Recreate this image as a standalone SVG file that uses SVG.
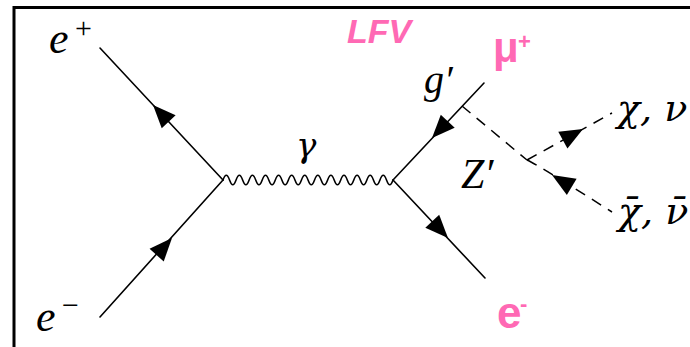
<svg xmlns="http://www.w3.org/2000/svg" width="690" height="347" viewBox="0 0 690 347">
<style>
.ln{stroke:#000;stroke-width:1.6;fill:none;stroke-linecap:round}
.ds{stroke:#000;stroke-width:1.5;fill:none;stroke-dasharray:11 8}
.m{font-family:"Liberation Serif",serif;font-style:italic;fill:#000}
.g{font-family:"DejaVu Serif",serif;font-style:italic;fill:#000}
.up{font-style:normal}
.pk{font-family:"Liberation Sans",Arial,sans-serif;font-weight:bold;fill:#ff69b4}
</style>
<defs>
<path id="arr" d="M0,0 L-23,-9.5 L-23,9.5 Z" fill="#000"/>
</defs>
<rect width="690" height="347" fill="#fff"/>
<path d="M14,347 L14,7.5 L690,7.5" stroke="#000" stroke-width="3" fill="none"/>
<g id="connectors">
<line class="ln" x1="100" y1="48" x2="223" y2="180"/>
<line class="ln" x1="100" y1="317" x2="223" y2="180"/>
<line class="ln" x1="393" y1="180" x2="484" y2="83"/>
<line class="ln" x1="393" y1="180" x2="485" y2="278"/>
<path class="ln" stroke-width="1.4" d="M223,180 c2.35,-6.3 4.19,-6.3 6.54,0 c2.35,6.3 4.19,6.3 6.54,0 c2.35,-6.3 4.19,-6.3 6.54,0 c2.35,6.3 4.19,6.3 6.54,0 c2.35,-6.3 4.19,-6.3 6.54,0 c2.35,6.3 4.19,6.3 6.54,0 c2.35,-6.3 4.19,-6.3 6.54,0 c2.35,6.3 4.19,6.3 6.54,0 c2.35,-6.3 4.19,-6.3 6.54,0 c2.35,6.3 4.19,6.3 6.54,0 c2.35,-6.3 4.19,-6.3 6.54,0 c2.35,6.3 4.19,6.3 6.54,0 c2.35,-6.3 4.19,-6.3 6.54,0 c2.35,6.3 4.19,6.3 6.54,0 c2.35,-6.3 4.19,-6.3 6.54,0 c2.35,6.3 4.19,6.3 6.54,0 c2.35,-6.3 4.19,-6.3 6.54,0 c2.35,6.3 4.19,6.3 6.54,0 c2.35,-6.3 4.19,-6.3 6.54,0 c2.35,6.3 4.19,6.3 6.54,0 c2.35,-6.3 4.19,-6.3 6.54,0 c2.35,6.3 4.19,6.3 6.54,0 c2.35,-6.3 4.19,-6.3 6.54,0 c2.35,6.3 4.19,6.3 6.54,0 c2.35,-6.3 4.19,-6.3 6.54,0 c2.35,6.3 4.19,6.3 6.54,0"/>
<path class="ds" d="M462,106 L527,160"/>
<path class="ds" d="M527,160 L612,113"/>
<path class="ds" d="M527,160 Q540,166 612,212"/>
<use href="#arr" transform="translate(153,105) rotate(-133)"/>
<use href="#arr" transform="translate(172,238) rotate(-48.1)"/>
<use href="#arr" transform="translate(432,138) rotate(133.2)"/>
<use href="#arr" transform="translate(448,238) rotate(46.8)"/>
<use href="#arr" transform="translate(583,129) rotate(-28.9)"/>
<use href="#arr" transform="translate(552,175) rotate(-149.1)"/>
</g>
<g id="label-eplus"><text class="m" x="49" y="53" font-size="44">e</text><text class="m up" x="75" y="38" font-size="30">+</text></g>
<g id="label-eminus"><text class="m" x="36" y="331" font-size="44">e</text><text class="m up" x="62" y="315" font-size="30">−</text></g>
<g id="label-gamma"><text class="g" x="296" y="157" font-size="34">γ</text></g>
<g id="label-g"><text class="m" x="424" y="93" font-size="40">g′</text></g>
<g id="label-Z"><text class="m" x="461" y="188" font-size="42">Z′</text></g>
<g id="label-chi"><text class="g" x="617" y="121" font-size="38">χ, ν</text></g>
<g id="label-chibar"><text class="g" x="618" y="224" font-size="38">χ̄, ν̄</text></g>
<g id="label-LFV"><text class="pk" x="347" y="43" font-size="34" font-style="italic">LFV</text></g>
<g id="label-mu"><text class="pk" x="493" y="62" font-size="42">μ</text><text class="pk" x="518" y="49" font-size="22">+</text></g>
<g id="label-e"><text class="pk" x="497" y="328" font-size="44">e</text><text class="pk" x="520" y="311" font-size="22">-</text></g>
</svg>
